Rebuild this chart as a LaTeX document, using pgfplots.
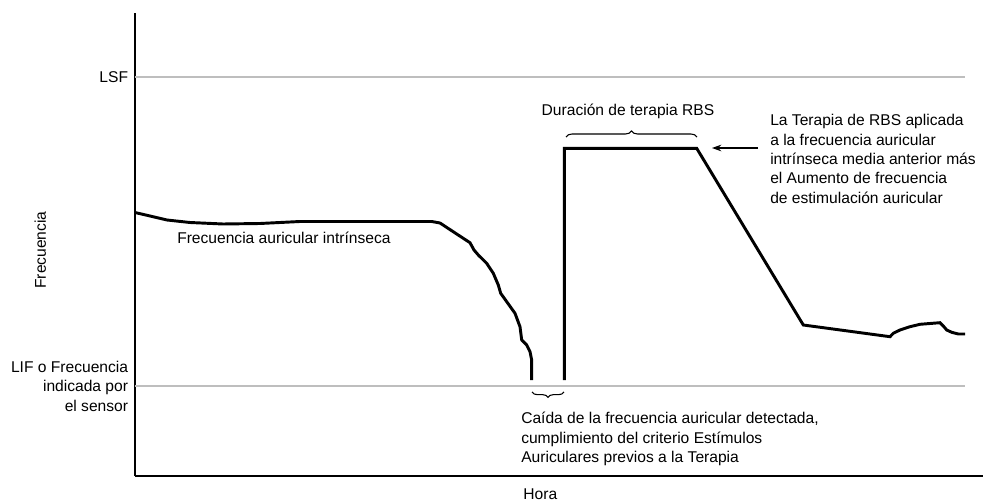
\documentclass[border=0pt]{standalone}
\usepackage{fontspec}
\setmainfont{Liberation Sans}
\usepackage{pgfplots}
\pgfplotsset{compat=1.18}
\usetikzlibrary{arrows.meta,decorations.pathreplacing}
\definecolor{gridgray}{HTML}{BEBEBE}

\begin{document}
\begin{tikzpicture}
\fontsize{11.7pt}{14.6pt}\selectfont
\begin{axis}[
at={(0,0)},anchor=south west,
scale only axis,width=636pt,height=347.25pt,
xmin=0,xmax=848,ymin=0,ymax=463,
axis x line=bottom,axis y line=left,
axis line style={-,line width=1pt},
xtick=\empty,
ytick={90,399},
yticklabels={{LIF o Frecuencia\\indicada por\\el sensor},LSF},
major tick length=0pt,
yticklabel style={align=right,inner sep=0pt,xshift=-5pt,font=\fontsize{11.7pt}{14.6pt}\selectfont},
xlabel={Hora},
xlabel style={at={(axis description cs:0.478,0)},anchor=north,inner sep=0pt,yshift=-9pt,font=\fontsize{11.7pt}{14.6pt}\selectfont},
ylabel={Frecuencia},
ylabel style={at={(axis description cs:0,0.488)},anchor=center,yshift=71pt,font=\fontsize{11.7pt}{14.6pt}\selectfont},
clip=false,
]
% limit lines
\addplot[gridgray,line width=1.1pt] coordinates {(0,399) (830,399)};
\addplot[gridgray,line width=1.1pt] coordinates {(0,90) (830,90)};

% intrinsic atrial rate
\addplot[black,line width=2.2pt,line join=round] coordinates {
(0,263.5) (15,260) (32,256) (55,253.5) (88,252) (125,252.5) (165,254.5)
(296.7,254.5) (305,253) (321.7,242) (335,233.3) (339,226) (343.3,221)
(351.7,212.7) (358.3,202.7) (363.3,191) (365.7,182.7) (371.7,174.3)
(380,162.7) (385,149.3) (386.7,136) (391.7,131) (395,124.3) (396.7,116)
(396.7,96)};

% RBS therapy and decay
\addplot[black,line width=2.2pt,line join=miter] coordinates {
(429.3,96) (429.3,327.7) (561.7,327.7) (668.3,151) (755,139.3)
(758.3,142.7) (765,146) (775,149.3) (785,151.7) (805,153.3) (808.3,150)
(811.7,146) (816.7,143.7) (823.3,142) (830,142)};

% braces
\draw[decorate,decoration={brace,amplitude=4.5pt},line width=0.8pt]
  (axis cs:431,339) -- (axis cs:562,339);
\draw[decorate,decoration={brace,amplitude=4pt},line width=0.8pt]
  (axis cs:429,84) -- (axis cs:397,84);

% arrow
\draw[-{Stealth[length=7pt,width=5pt]},line width=0.9pt]
  (axis cs:623,328) -- (axis cs:577,328);

% annotations
\node[anchor=base,inner sep=0pt] at (axis cs:493,360) {Duración de terapia RBS};
\node[anchor=base west,inner sep=0pt] at (axis cs:42,233) {Frecuencia auricular intrínseca};
\node[anchor=north west,inner sep=0pt,align=left] at (axis cs:635,362)
  {La Terapia de RBS aplicada\\a la frecuencia auricular\\intrínseca media anterior más\\el Aumento de frecuencia\\de estimulación auricular};
\node[anchor=north west,inner sep=0pt,align=left] at (axis cs:386,64)
  {Caída de la frecuencia auricular detectada,\\cumplimiento del criterio Estímulos\\Auriculares previos a la Terapia};
\end{axis}
\pgfresetboundingbox
\path[use as bounding box] (-101.25pt,-18.75pt) rectangle (636pt,357pt);
\end{tikzpicture}
\end{document}
